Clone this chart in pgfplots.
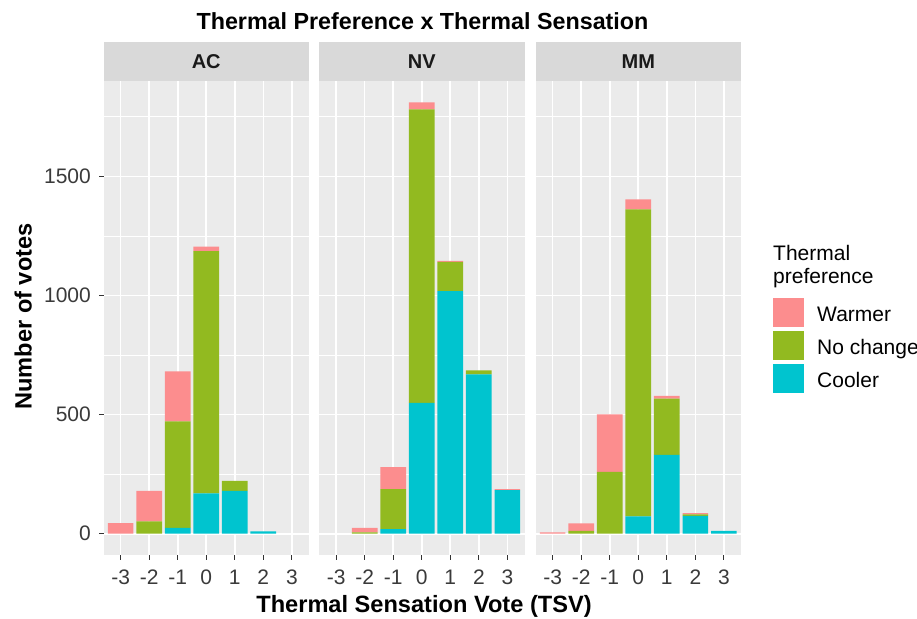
\documentclass[border=0pt]{standalone}
\usepackage{fontspec}
\setmainfont{Liberation Sans}
\usepackage{pgfplots}
\pgfplotsset{compat=1.18}

\definecolor{warm}{HTML}{FC8D8E}
\definecolor{nochg}{HTML}{92BA20}
\definecolor{cool}{HTML}{00C4CF}
\definecolor{panelbg}{HTML}{EBEBEB}
\definecolor{stripbg}{HTML}{D9D9D9}
\definecolor{ticktext}{HTML}{3A3A3A}
\definecolor{tickline}{HTML}{333333}
\definecolor{striptext}{HTML}{1A1A1A}

\pgfplotsset{
  panel/.style={
    scale only axis, width=205.5pt, height=474.6pt,
    xmin=-3.6, xmax=3.6, ymin=-90.5, ymax=1901.5,
    ybar stacked, bar width=0.9,
    axis background/.style={fill=panelbg},
    axis line style={draw=none},
    xtick={-3,-2,-1,0,1,2,3}, xticklabels={-3,-2,-1,0,1,2,3},
    ytick={0,500,1000,1500}, minor ytick={250,750,1250,1750},
    xmajorgrids, ymajorgrids, yminorgrids,
    major grid style={white, line width=1.6pt},
    minor grid style={white, line width=0.8pt},
    tick align=outside, major tick length=4.5pt, minor tick length=0pt,
    tick style={tickline, line width=1.1pt},
    xtick pos=bottom, ytick pos=left,
    tick label style={font=\fontsize{21}{25}\selectfont, text=ticktext, inner sep=0pt},
    xticklabel style={anchor=north, yshift=-10pt},
    yticklabel style={anchor=east, xshift=-8pt},
    every axis plot/.append style={draw=none},
  },
}

\begin{document}
\begin{tikzpicture}[x=1pt, y=1pt]

% AC
\begin{axis}[panel, name=ac, at={(103.5pt,62.7pt)}, anchor=south west,
  yticklabels={0,500,1000,1500}]
\addplot[fill=cool] coordinates {(-3,0) (-2,0) (-1,25) (0,169) (1,180) (2,10) (3,0)};
\addplot[fill=nochg] coordinates {(-3,0) (-2,52) (-1,447) (0,1017) (1,42) (2,0) (3,0)};
\addplot[fill=warm] coordinates {(-3,45) (-2,128) (-1,209) (0,19) (1,0) (2,0) (3,0)};
\end{axis}

% NV
\begin{axis}[panel, name=nv, at={(319pt,62.7pt)}, anchor=south west,
  yticklabels={}, ytick style={draw=none}]
\addplot[fill=cool] coordinates {(-3,0) (-2,0) (-1,19) (0,549) (1,1018) (2,669) (3,183)};
\addplot[fill=nochg] coordinates {(-3,0) (-2,6) (-1,168) (0,1232) (1,123) (2,17) (3,0)};
\addplot[fill=warm] coordinates {(-3,0) (-2,19) (-1,93) (0,30) (1,4) (2,0) (3,4)};
\end{axis}

% MM
\begin{axis}[panel, name=mm, at={(535.5pt,62.7pt)}, anchor=south west,
  yticklabels={}, ytick style={draw=none}]
\addplot[fill=cool] coordinates {(-3,0) (-2,0) (-1,0) (0,73) (1,331) (2,75) (3,12)};
\addplot[fill=nochg] coordinates {(-3,0) (-2,12) (-1,260) (0,1288) (1,236) (2,6) (3,0)};
\addplot[fill=warm] coordinates {(-3,6) (-2,31) (-1,241) (0,42) (1,12) (2,6) (3,0)};
\end{axis}

% facet strips
\foreach \p/\lab in {ac/AC, nv/NV, mm/MM} {
  \fill[stripbg] (\p.north west) rectangle ([yshift=39pt]\p.north east);
  \node[font=\bfseries\fontsize{20}{24}\selectfont, text=striptext, inner sep=0pt]
    at ([yshift=19pt]\p.north) {\lab};
}

% titles
\node[font=\bfseries\fontsize{23.3}{28}\selectfont, anchor=base, inner sep=0pt]
  at (422.5,588.7) {Thermal Preference x Thermal Sensation};
\node[font=\bfseries\fontsize{23.6}{28}\selectfont, anchor=base, inner sep=0pt]
  at (424,6) {Thermal Sensation Vote (TSV)};
\node[font=\bfseries\fontsize{23.6}{28}\selectfont, anchor=base, rotate=90, inner sep=0pt]
  at (31.5,301.5) {Number of votes};

% legend
\node[font=\fontsize{21}{25}\selectfont, anchor=base west, inner sep=0pt] at (773,357) {Thermal};
\node[font=\fontsize{21}{25}\selectfont, anchor=base west, inner sep=0pt] at (773,334) {preference};
\filldraw[fill=warm, draw=white, line width=0.5pt] (772.3,290.3) rectangle (804.3,320.3);
\filldraw[fill=nochg, draw=white, line width=0.5pt] (772.3,257.3) rectangle (804.3,287.3);
\filldraw[fill=cool, draw=white, line width=0.5pt] (772.3,224.3) rectangle (804.3,254.3);
\node[font=\fontsize{21}{25}\selectfont, anchor=base west, inner sep=0pt] at (817,296.5) {Warmer};
\node[font=\fontsize{21}{25}\selectfont, anchor=base west, inner sep=0pt] at (817,263.5) {No change};
\node[font=\fontsize{21}{25}\selectfont, anchor=base west, inner sep=0pt] at (817,230.5) {Cooler};

\pgfresetboundingbox
\path (0,0) rectangle (917,618);
\end{tikzpicture}
\end{document}
